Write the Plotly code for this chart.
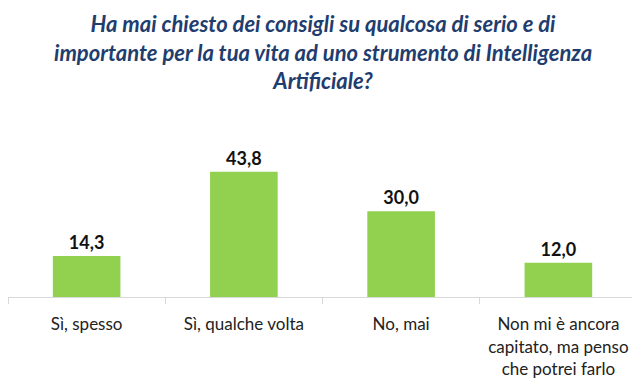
import plotly.graph_objects as go

categories = [
    "Sì, spesso",
    "Sì, qualche volta",
    "No, mai",
    "Non mi è ancora<br>capitato, ma penso<br>che potrei farlo",
]
values = [14.3, 43.8, 30.0, 12.0]
title_text = ("Ha mai chiesto dei consigli su qualcosa di serio e di<br>"
              "importante per la tua vita ad uno strumento di Intelligenza<br>"
              "Artificiale?")

fig = go.Figure(go.Bar(
    x=categories,
    y=values,
    marker=dict(color="#92D050", line=dict(width=0)),
    texttemplate="%{y:.1f}",
    textposition="outside",
    textfont=dict(family="Lato, Carlito, sans-serif", size=18, color="#111111", weight="bold"),
    cliponaxis=False,
))

fig.add_annotation(
    text="<b><i>" + title_text + "</i></b>",
    xref="paper", yref="paper", x=0.5, xanchor="center",
    y=1, yshift=146, yanchor="top",
    showarrow=False, align="center",
    font=dict(family="Lato, Carlito, sans-serif", size=22, color="#1F3D6E"),
)

fig.update_layout(
    width=632, height=378,
    separators=",.",
    paper_bgcolor="white", plot_bgcolor="white",
    margin=dict(l=0, r=3, t=146, b=89, autoexpand=False),
    bargap=0.57,
    showlegend=False,
    xaxis=dict(
        automargin=False,
        tickangle=0,
        showline=True, linecolor="#D9D9D9", linewidth=1,
        ticks="outside", tickson="boundaries", ticklen=6, tickcolor="#D9D9D9",
        ticklabelstandoff=12,
        tickfont=dict(family="Lato, Carlito, sans-serif", size=17, color="#222222"),
        showgrid=False,
    ),
    yaxis=dict(automargin=False, range=[0, 50], visible=False, showgrid=False, zeroline=False),
)

fig.write_html("out.html")
